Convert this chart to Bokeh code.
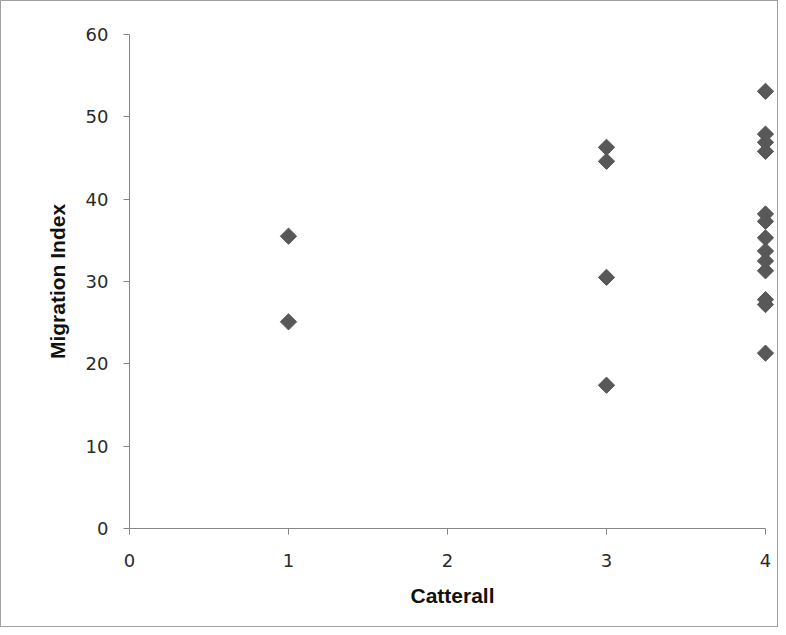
import math
from bokeh.plotting import figure
from bokeh.models import Range1d, FixedTicker
from bokeh.embed import file_html
from bokeh.resources import INLINE

catterall = [1, 1, 3, 3, 3, 3, 4, 4, 4, 4, 4, 4, 4, 4, 4, 4, 4, 4, 4]
migration_index = [35.5, 25.1, 46.3, 44.6, 30.5, 17.4,
                   53.1, 47.9, 46.9, 45.8, 38.2, 37.3, 35.3, 33.7, 32.5, 31.3, 27.8, 27.2, 21.3]
x_ticks = [0, 1, 2, 3, 4]
y_ticks = [0, 10, 20, 30, 40, 50, 60]

p = figure(width=778, height=627, output_backend="svg", toolbar_location=None,
           x_range=Range1d(0, 4.063), y_range=Range1d(0, 60),
           min_border_left=128, min_border_right=4, min_border_top=33, min_border_bottom=100)
p.styles = {"border": "1px solid #a0a0a0"}
p.outline_line_color = None
p.xgrid.grid_line_color = None
p.ygrid.grid_line_color = None

p.scatter(catterall, migration_index, marker="square", size=11.5, angle=math.pi / 4,
          fill_color="#585858", line_color="#585858")

for ax in (p.xaxis[0], p.yaxis[0]):
    ax.axis_line_color = "#868686"
    ax.major_tick_line_color = "#868686"
    ax.minor_tick_line_color = None
    ax.major_tick_in = 0
    ax.major_tick_out = 6
    ax.major_label_text_font = "DejaVu Sans"
    ax.major_label_text_font_size = "18px"
    ax.major_label_text_color = "#2a2a2a"
    ax.axis_label_text_font = "Liberation Sans"
    ax.axis_label_text_font_style = "bold"
    ax.axis_label_text_font_size = "21px"
    ax.axis_label_text_color = "#111111"

p.xaxis[0].bounds = (0, 4)
p.xaxis[0].ticker = FixedTicker(ticks=x_ticks)
p.yaxis[0].ticker = FixedTicker(ticks=y_ticks)
p.xaxis[0].axis_label = "Catterall"
p.yaxis[0].axis_label = "Migration Index"
p.xaxis[0].major_label_standoff = 19
p.yaxis[0].major_label_standoff = 15
p.xaxis[0].axis_label_standoff = 14
p.yaxis[0].axis_label_standoff = 14

open("out.html", "w").write(file_html(p, INLINE))
